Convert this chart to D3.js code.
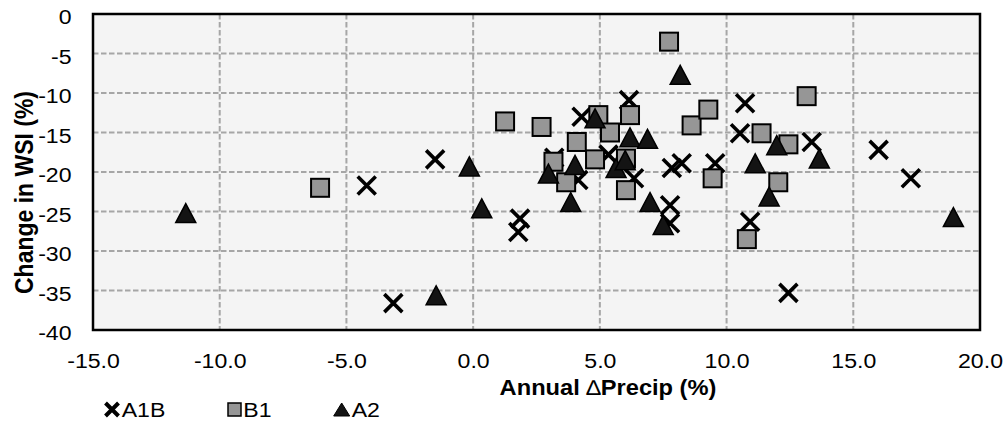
<!DOCTYPE html>
<html>
<head>
<meta charset="utf-8">
<script src="https://cdn.jsdelivr.net/npm/d3@7"></script>
<style>
  html, body { margin: 0; padding: 0; background: #fff; }
  svg { display: block; }
  text { font-family: "Liberation Sans", Arial, sans-serif; fill: #000; }
</style>
</head>
<body>
<svg id="chart" width="1005" height="423"></svg>
<script>
// Scenario names (legend order = drawing order)
const seriesNames = ["A1B", "B1", "A2"];

// A1B: annual change in precipitation (%) and change in WSI (%)
const a1bPrecip = [-4.2, -1.5, -3.15, 1.85, 1.78, 3.2, 4.28, 4.15, 5.34, 6.15, 6.35, 7.84, 8.23, 9.55, 7.77, 7.77, 10.73, 10.53, 13.36, 10.93, 12.44, 16.0, 17.27];
const a1bWsi    = [-21.7, -18.4, -36.6, -25.9, -27.6, -18.2, -13.0, -21.0, -17.8, -10.9, -20.8, -19.5, -18.9, -18.9, -24.2, -26.5, -11.3, -15.1, -16.2, -26.3, -35.3, -17.2, -20.8];

// B1
const b1Precip = [-6.04, 1.26, 2.7, 3.17, 3.67, 4.09, 4.94, 4.81, 5.40, 6.19, 6.03, 6.03, 7.73, 8.62, 9.28, 9.45, 11.38, 12.44, 13.16, 12.04, 10.8];
const b1Wsi    = [-22.0, -13.6, -14.3, -18.7, -21.3, -16.2, -12.8, -18.4, -15.0, -12.8, -18.3, -22.3, -3.5, -14.1, -12.1, -20.8, -15.1, -16.5, -10.4, -21.3, -28.5];

// A2
const a2Precip = [-11.34, -1.46, -0.15, 0.34, 2.97, 3.85, 4.02, 4.81, 5.64, 6.0, 6.19, 6.88, 6.98, 7.5, 8.17, 11.13, 11.98, 11.68, 13.66, 18.95];
const a2Wsi    = [-25.2, -35.6, -19.3, -24.6, -20.2, -23.8, -19.1, -13.2, -19.5, -18.5, -15.6, -15.8, -23.8, -26.7, -7.7, -18.9, -16.6, -23.1, -18.3, -25.7];

// Axis ticks
const xTicks = [-15, -10, -5, 0, 5, 10, 15, 20];
const yTicks = [-40, -35, -30, -25, -20, -15, -10, -5, 0];

const xTitle = "Annual ";
const xTitleDelta = "\u2206";
const xTitleRest = "Precip (%)";
const yTitle = "Change in WSI (%)";

const svg = d3.select("#chart");
const plot = { left: 93, right: 980, top: 14, bottom: 330 };
const stretch = "scale(1.1,1)";

// Number formatting with a plain hyphen as the minus sign
const locale = d3.formatLocale({ decimal: ".", thousands: ",", grouping: [3], currency: ["", ""], minus: "-" });

const x = d3.scaleLinear().domain([-15, 20]).range([plot.left, plot.right]);
const y = d3.scaleLinear().domain([-40, 0]).range([plot.bottom, plot.top]);

// Plot background
svg.append("rect")
  .attr("x", plot.left).attr("y", plot.top)
  .attr("width", plot.right - plot.left).attr("height", plot.bottom - plot.top)
  .attr("fill", "#f4f4f4");

// Dashed gridlines
const grid = svg.append("g").attr("stroke", "#a6a6a6").attr("stroke-width", 2).attr("stroke-dasharray", "5.5,2.5");
grid.selectAll("line.v").data(xTicks.slice(1, -1)).join("line")
  .attr("x1", d => x(d)).attr("x2", d => x(d))
  .attr("y1", plot.top).attr("y2", plot.bottom);
grid.selectAll("line.h").data(yTicks.slice(1, -1)).join("line")
  .attr("x1", plot.left).attr("x2", plot.right)
  .attr("y1", d => y(d)).attr("y2", d => y(d));

// Axes (labels only; frame drawn separately)
const xAxis = svg.append("g")
  .attr("transform", `translate(0,${plot.bottom})`)
  .call(d3.axisBottom(x).tickValues(xTicks).tickSize(0).tickFormat(locale.format(".1f")));
xAxis.select(".domain").remove();
xAxis.selectAll("text")
  .attr("y", null).attr("dy", null)
  .attr("transform", `translate(0,38) ${stretch}`)
  .attr("text-anchor", "middle")
  .style("font-size", "21px").style("font-family", "Liberation Sans, Arial, sans-serif").attr("fill", "#000");

const yAxis = svg.append("g")
  .attr("transform", `translate(${plot.left},0)`)
  .call(d3.axisLeft(y).tickValues(yTicks).tickSize(0).tickFormat(locale.format("d")));
yAxis.select(".domain").remove();
yAxis.selectAll("text")
  .attr("x", null).attr("dy", null)
  .attr("transform", `translate(-21.5,9.5) ${stretch}`)
  .attr("text-anchor", "end")
  .style("font-size", "21px").style("font-family", "Liberation Sans, Arial, sans-serif").attr("fill", "#000");

// Marker shapes
const xMark = h => `M${-h},${-h}L${h},${h}M${-h},${h}L${h},${-h}`;
const triMark = (w, h) => `M0,${-h / 2}L${w / 2},${h / 2}L${-w / 2},${h / 2}Z`;

const zip = (xs, ys) => xs.map((v, i) => [v, ys[i]]);

// A1B crosses
svg.append("g").selectAll("path").data(zip(a1bPrecip, a1bWsi)).join("path")
  .attr("transform", d => `translate(${x(d[0])},${y(d[1])})`)
  .attr("d", xMark(9))
  .attr("fill", "none").attr("stroke", "#000").attr("stroke-width", 3.6);

// B1 squares
svg.append("g").selectAll("rect").data(zip(b1Precip, b1Wsi)).join("rect")
  .attr("x", d => x(d[0]) - 9).attr("y", d => y(d[1]) - 9)
  .attr("width", 18).attr("height", 18)
  .attr("fill", "#969696").attr("stroke", "#000").attr("stroke-width", 2);

// A2 triangles
svg.append("g").selectAll("path").data(zip(a2Precip, a2Wsi)).join("path")
  .attr("transform", d => `translate(${x(d[0])},${y(d[1])})`)
  .attr("d", triMark(20, 19))
  .attr("fill", "#141414").attr("stroke", "#000").attr("stroke-width", 1.5).attr("stroke-linejoin", "miter");

// Plot frame
svg.append("rect")
  .attr("x", plot.left).attr("y", plot.top)
  .attr("width", plot.right - plot.left).attr("height", plot.bottom - plot.top)
  .attr("fill", "none").attr("stroke", "#000").attr("stroke-width", 2.5);

// Axis titles
const xt = svg.append("text")
  .attr("transform", `translate(608,395) ${stretch}`)
  .attr("text-anchor", "middle")
  .style("font-size", "21.5px").style("font-weight", "bold");
xt.append("tspan").text(xTitle);
xt.append("tspan").style("font-weight", "normal").text(xTitleDelta);
xt.append("tspan").text(xTitleRest);

svg.append("text")
  .attr("transform", `translate(33,192.5) ${stretch} rotate(-90)`)
  .attr("text-anchor", "middle")
  .style("font-size", "23px").style("font-weight", "bold")
  .text(yTitle);

// Legend
const legendPos = [
  { mx: 112, tx: 121.7 },
  { mx: 234.5, tx: 243.3 },
  { mx: 341.7, tx: 351.7 }
];
const legend = svg.append("g");
const ly = 409.5;
legend.append("path")
  .attr("transform", `translate(${legendPos[0].mx},${ly})`)
  .attr("d", xMark(6.5))
  .attr("fill", "none").attr("stroke", "#000").attr("stroke-width", 4);
legend.append("rect")
  .attr("x", legendPos[1].mx - 6.5).attr("y", ly - 6.5)
  .attr("width", 13).attr("height", 13)
  .attr("fill", "#969696").attr("stroke", "#000").attr("stroke-width", 1.5);
legend.append("path")
  .attr("transform", `translate(${legendPos[2].mx},${ly})`)
  .attr("d", triMark(16, 13))
  .attr("fill", "#141414").attr("stroke", "#000").attr("stroke-width", 1);
legend.selectAll("text").data(seriesNames).join("text")
  .attr("transform", (d, i) => `translate(${legendPos[i].tx},416.7) ${stretch}`)
  .style("font-size", "21px")
  .text(d => d);
</script>
</body>
</html>
